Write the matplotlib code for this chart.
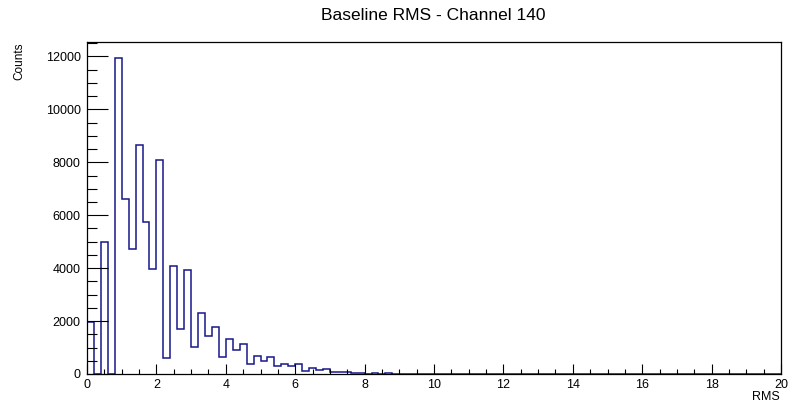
import numpy as np
import matplotlib
matplotlib.use("Agg")
import matplotlib.pyplot as plt
from matplotlib.ticker import MultipleLocator

# Histogram data: 100 bins of width 0.2 from 0 to 20
bin_lo, bin_hi, n_bins = 0.0, 20.0, 100
counts_head = [1980, 0, 4970, 0, 11950, 6630, 4740, 8670, 5750, 3950,
               8075, 590, 4075, 1685, 3925, 1030, 2320, 1435, 1785, 630,
               1310, 900, 1145, 385, 680, 490, 650, 320, 360, 295,
               365, 130, 245, 150, 180, 90, 65, 60, 55, 50,
               0, 40, 10, 40, 0]
counts = counts_head + [0] * (n_bins - len(counts_head))

title = "Baseline RMS - Channel 140"
xlabel = "RMS"
ylabel = "Counts"

plt.rcParams['font.family'] = ['Liberation Sans', 'DejaVu Sans']

fig = plt.figure(figsize=(7.88, 4.04), dpi=100)
W, H = 788, 404
ax = fig.add_axes([87 / W, 1 - 374 / H, 694 / W, 332 / H])

edges = np.linspace(bin_lo, bin_hi, n_bins + 1)
ax.stairs(counts, edges, baseline=0, color='#17178a', linewidth=1.1)

ax.set_xlim(bin_lo, bin_hi)
ax.set_ylim(0, 1.05 * max(counts))

ax.xaxis.set_major_locator(MultipleLocator(2))
ax.xaxis.set_minor_locator(MultipleLocator(0.5))
ax.yaxis.set_major_locator(MultipleLocator(2000))
ax.yaxis.set_minor_locator(MultipleLocator(500))

ax.tick_params(axis='x', which='major', direction='in', length=7.5, width=0.8,
               labelsize=9, pad=3.5, top=False)
ax.tick_params(axis='x', which='minor', direction='in', length=3.5, width=0.8, top=False)
ax.tick_params(axis='y', which='major', direction='in', length=15, width=0.8,
               labelsize=9, pad=4.5, right=False)
ax.tick_params(axis='y', which='minor', direction='in', length=7.5, width=0.8, right=False)

for s in ax.spines.values():
    s.set_linewidth(0.9)
    s.set_color('black')

fig.text(433 / W, 1 - 15 / H, title, ha='center', va='center', fontsize=12.5)
fig.text(780 / W, 1 - 397 / H, xlabel, ha='right', va='center', fontsize=9)
fig.text(19.5 / W, 1 - 43 / H, ylabel, ha='center', va='top', rotation=90, fontsize=8.5)

fig.savefig("out.png", dpi=100)
